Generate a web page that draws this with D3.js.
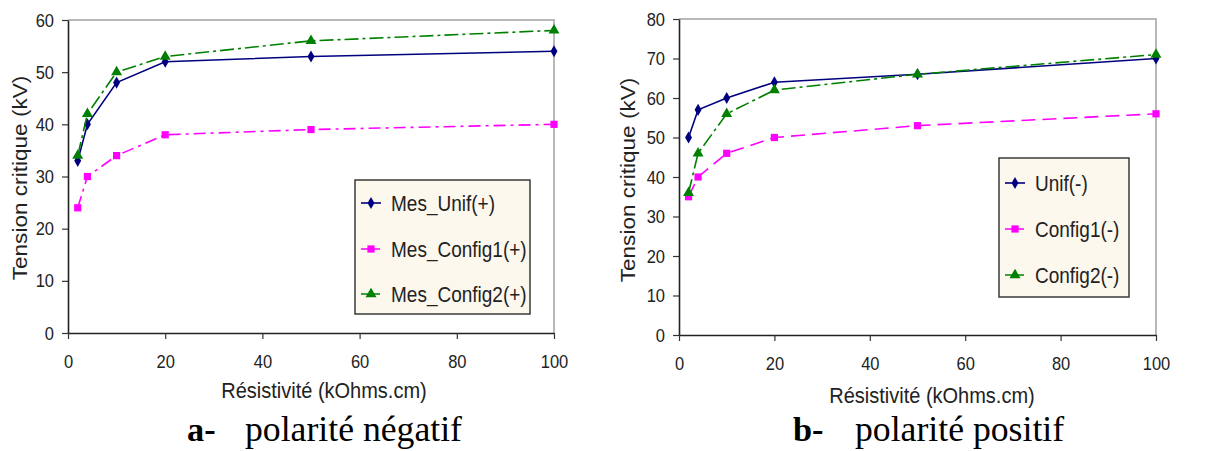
<!DOCTYPE html>
<html>
<head>
<meta charset="utf-8">
<script src="https://cdn.jsdelivr.net/npm/d3@7"></script>
<style>
  body { margin: 0; background: #fff; }
  text { font-family: "Liberation Sans", Arial, sans-serif; fill: #222; }
  .caption { font-family: "Liberation Serif", "DejaVu Serif", serif; fill: #000; }
</style>
</head>
<body>
<div id="chart"></div>
<script>
// data
const resistivity = [2, 4, 10, 20, 50, 100];

const negUnif    = [33, 40, 48, 52, 53, 54];
const negConfig1 = [24, 30, 34, 38, 39, 40];
const negConfig2 = [34, 42, 50, 53, 56, 58];

const posUnif    = [50, 57, 60, 64, 66, 70];
const posConfig1 = [35, 40, 46, 50, 53, 56];
const posConfig2 = [36, 46, 56, 62, 66, 71];

const xTicks = [0, 20, 40, 60, 80, 100];
const negYTicks = [0, 10, 20, 30, 40, 50, 60];
const posYTicks = [0, 10, 20, 30, 40, 50, 60, 70, 80];

const negNames = ["Mes_Unif(+)", "Mes_Config1(+)", "Mes_Config2(+)"];
const posNames = ["Unif(-)", "Config1(-)", "Config2(-)"];

const xTitle = "Résistivité (kOhms.cm)";
const yTitle = "Tension critique (kV)";

const W = 1224, H = 451;

const svg = d3.select("#chart").append("svg")
  .attr("width", W)
  .attr("height", H);

// series styles (colour, marker, dash)
const navy = "#00007f", magenta = "#ff00ff", green = "#008000";

// the source picture is a bit taller than wide, stretch text around its anchor
function stretch(sel, ky, kx = 1) {
  sel.each(function() {
    const t = d3.select(this);
    const x = +t.attr("x") || 0, y = +t.attr("y") || 0;
    t.attr("transform", `translate(${x},${y}) scale(${kx},${ky}) translate(${-x},${-y})`);
  });
}

function drawChart(opt) {
  const x = d3.scaleLinear().domain([0, 100]).range([opt.left, opt.right]);
  const y = d3.scaleLinear().domain([0, opt.yMax]).range([opt.bottom, opt.top]);

  const g = svg.append("g");

  // light frame on top and right
  g.append("path")
    .attr("d", `M${opt.left},${opt.top}H${opt.right}V${opt.bottom}`)
    .attr("fill", "none")
    .attr("stroke", "#b8b8b8")
    .attr("stroke-width", 2);

  // axes
  const yAxis = g.append("g")
    .attr("transform", `translate(${opt.left},0)`)
    .call(d3.axisLeft(y).tickValues(opt.yTicks).tickSize(6).tickPadding(8).tickSizeOuter(0));
  const xAxis = g.append("g")
    .attr("transform", `translate(0,${opt.bottom})`)
    .call(d3.axisBottom(x).tickValues(xTicks).tickSize(6).tickPadding(16).tickSizeOuter(0));

  [yAxis, xAxis].forEach(a => {
    a.select(".domain").attr("stroke", "#222").attr("stroke-width", 1.6);
    a.selectAll(".tick line").attr("stroke", "#333").attr("stroke-width", 1.2);
    a.selectAll("text")
      .attr("fill", "#222")
      .style("font-size", "16.5px")
      .style("font-family", "Liberation Sans, Arial, sans-serif")
      .call(stretch, 1.15);
  });

  // axis titles
  g.append("text")
    .attr("x", opt.xTitleX)
    .attr("y", opt.xTitleY)
    .attr("text-anchor", "middle")
    .style("font-size", "20px")
    .text(xTitle)
    .call(stretch, 1.1);

  g.append("text")
    .attr("transform", `translate(${opt.yTitleX},${opt.yTitleY}) rotate(-90) scale(1.13,1)`)
    .attr("text-anchor", "middle")
    .style("font-size", "20px")
    .text(yTitle);

  // lines + markers
  const line = d3.line()
    .x((d, i) => x(resistivity[i]))
    .y(d => y(d));

  opt.series.forEach(s => {
    g.append("path")
      .datum(s.values)
      .attr("d", line)
      .attr("fill", "none")
      .attr("stroke", s.color)
      .attr("stroke-width", 1.6)
      .attr("stroke-dasharray", s.dash);

    g.append("g")
      .selectAll("path")
      .data(s.values)
      .join("path")
      .attr("transform", (d, i) => `translate(${x(resistivity[i])},${y(d)})`)
      .attr("d", d3.symbol().type(s.symbol).size(s.size))
      .attr("fill", s.color);
  });

  // legend box
  const lg = g.append("g");
  lg.append("rect")
    .attr("x", opt.legend.x)
    .attr("y", opt.legend.y)
    .attr("width", opt.legend.w)
    .attr("height", opt.legend.h)
    .attr("fill", "#fcf8ee")
    .attr("stroke", "#3a3a3a")
    .attr("stroke-width", 1.5);

  opt.series.forEach((s, i) => {
    const cy = opt.legend.rows[i];
    const lx = opt.legend.x + 6;
    lg.append("line")
      .attr("x1", lx).attr("x2", lx + 20)
      .attr("y1", cy).attr("y2", cy)
      .attr("stroke", s.color)
      .attr("stroke-width", 1.6)
      .attr("stroke-dasharray", s.legendDash);
    lg.append("path")
      .attr("transform", `translate(${lx + 10},${cy})`)
      .attr("d", d3.symbol().type(s.symbol).size(s.size))
      .attr("fill", s.color);
    lg.append("text")
      .attr("x", lx + 30)
      .attr("y", cy)
      .attr("dy", "0.35em")
      .style("font-size", "19px")
      .text(s.name)
      .call(stretch, 1.15);
  });
}

// chart a
drawChart({
  left: 68, right: 554, top: 20, bottom: 333, yMax: 60, yTicks: negYTicks,
  xTitleX: 324, xTitleY: 398, yTitleX: 27, yTitleY: 178,
  legend: { x: 355, y: 180, w: 175, h: 134, rows: [203, 249, 294] },
  series: [
    { name: negNames[0], values: negUnif, color: navy, symbol: d3.symbolDiamond, size: 42, dash: null, legendDash: null },
    { name: negNames[1], values: negConfig1, color: magenta, symbol: d3.symbolSquare, size: 52, dash: "12,5,3,5", legendDash: "8,3" },
    { name: negNames[2], values: negConfig2, color: green, symbol: d3.symbolTriangle, size: 52, dash: "14,4,3,4", legendDash: "8,3" }
  ]
});

// chart b
drawChart({
  left: 679, right: 1156, top: 19, bottom: 335, yMax: 80, yTicks: posYTicks,
  xTitleX: 932, xTitleY: 403, yTitleX: 635, yTitleY: 180,
  legend: { x: 999, y: 158, w: 130, h: 139, rows: [183, 229, 275] },
  series: [
    { name: posNames[0], values: posUnif, color: navy, symbol: d3.symbolDiamond, size: 42, dash: null, legendDash: null },
    { name: posNames[1], values: posConfig1, color: magenta, symbol: d3.symbolSquare, size: 52, dash: "14,7", legendDash: "8,3" },
    { name: posNames[2], values: posConfig2, color: green, symbol: d3.symbolTriangle, size: 52, dash: "14,4,3,4", legendDash: "8,3" }
  ]
});

// captions under each chart
const captions = [
  { tag: "a-", text: "polarité négatif", x: 187, tx: 245, y: 441 },
  { tag: "b-", text: "polarité positif", x: 793, tx: 855, y: 441 }
];
captions.forEach(c => {
  svg.append("text").attr("class", "caption")
    .attr("x", c.x).attr("y", c.y)
    .style("font-size", "33px").style("font-weight", "bold")
    .text(c.tag)
    .call(stretch, 1.05, 1.04);
  svg.append("text").attr("class", "caption")
    .attr("x", c.tx).attr("y", c.y)
    .style("font-size", "34px")
    .text(c.text)
    .call(stretch, 1.05, 1.05);
});
</script>
</body>
</html>
